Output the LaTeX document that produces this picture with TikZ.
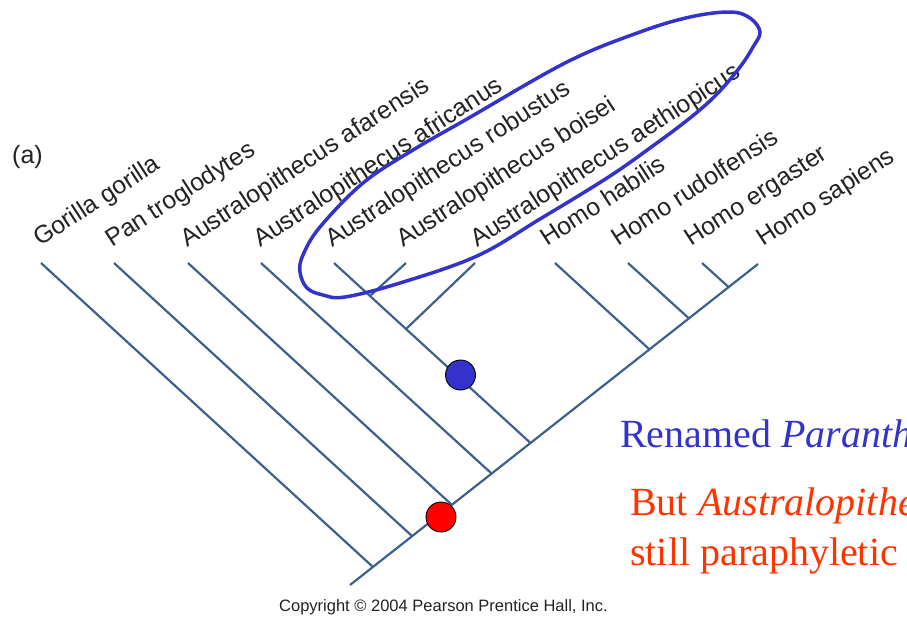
\documentclass[tikz,border=0pt]{standalone}
\usepackage{fontspec}
\setmainfont{Liberation Serif}
\newfontfamily\labfont{Liberation Sans}
\definecolor{branch}{RGB}{62,96,140}
\definecolor{ovalblue}{RGB}{51,51,204}
\definecolor{txtred}{RGB}{255,51,0}
\definecolor{labgray}{RGB}{34,34,34}
\begin{document}
\begin{tikzpicture}[x=1pt,y=-1pt,
  br/.style={draw=branch, line width=2.2pt},
  taxon/.style={font=\labfont\fontsize{24.8}{28}\selectfont, text=labgray, rotate=33, anchor=base west, inner sep=0pt},
  dotnode/.style={circle, draw=black, line width=0.9pt, minimum size=30pt, inner sep=0pt},
  bigtext/.style={anchor=base west, inner sep=0pt, font=\fontsize{40}{44}\selectfont}]
\useasboundingbox (0,0) rectangle (907,616);
\clip (0,0) rectangle (907,616);
% tips and junctions
\coordinate (root) at (350,585);
\coordinate (tG) at (41,263);   \coordinate (jG) at (373,567);
\coordinate (tP) at (114,263);  \coordinate (jP) at (412,536);
\coordinate (tAf) at (188,263); \coordinate (jAf) at (452,505);
\coordinate (tAa) at (261,263); \coordinate (jAa) at (491,473);
\coordinate (tR) at (334,263);  \coordinate (jR) at (530.5,443);
\coordinate (tB) at (406,263);  \coordinate (jB) at (370,296);
\coordinate (tAe) at (475,263); \coordinate (jAe) at (406,329);
\coordinate (tHh) at (555,263); \coordinate (jHh) at (649,349);
\coordinate (tHr) at (628,263); \coordinate (jHr) at (688.5,318);
\coordinate (tHe) at (702,263); \coordinate (jHe) at (728.5,287);
\coordinate (tHs) at (758,264);
% branches
\draw[br] (root) -- (tHs);
\draw[br] (tG) -- (jG);
\draw[br] (tP) -- (jP);
\draw[br] (tAf) -- (jAf);
\draw[br] (tAa) -- (jAa);
\draw[br] (tR) -- (jR);
\draw[br] (tB) -- (jB);
\draw[br] (tAe) -- (jAe);
\draw[br] (tHh) -- (jHh);
\draw[br] (tHr) -- (jHr);
\draw[br] (tHe) -- (jHe);
% labels
\node[taxon] (lG) at (40,247) {Gorilla gorilla};
\node[taxon] (lP) at (112,248) {Pan troglodytes};
\node[taxon] (lAf) at (187,248) {Australopithecus afarensis};
\node[taxon] (lAa) at (260,248) {Australopithecus africanus};
\node[taxon] (lR) at (332,248) {Australopithecus robustus};
\node[taxon] (lB) at (403,248) {Australopithecus boisei};
\node[taxon] (lAe) at (477,248) {Australopithecus aethiopicus};
\node[taxon] (lHh) at (547,247) {Homo habilis};
\node[taxon] (lHr) at (618,247) {Homo rudolfensis};
\node[taxon] (lHe) at (691,247) {Homo ergaster};
\node[taxon] (lHs) at (763,247) {Homo sapiens};
\node[anchor=base west, inner sep=0pt, font=\labfont\fontsize{25}{28}\selectfont, text=labgray] (panel) at (12,163) {(a)};
% oval
\draw[draw=ovalblue, line width=3.5pt] plot[smooth cycle, tension=0.6] coordinates {
 (300,272) (307,288) (323,295) (345,297) (400,283) (477,256) (540,219) (607,178)
 (650,148) (690,118) (717,94) (740,67) (753,47) (760,32) (750,18) (730,12)
 (690,17) (640,32) (567,62) (467,119) (413,150) (363,183) (320,227) (303,255)};
% dots
\node[dotnode, fill=ovalblue] (bdot) at (460.5,375) {};
\node[dotnode, fill=red] (rdot) at (441,517) {};
% text
\node[bigtext, text=ovalblue] (renamed) at (620,447) {Renamed \textit{Paranth}};
\node[bigtext, text=txtred] (but) at (630,515) {But \textit{Australopithe}};
\node[bigtext, text=txtred] (still) at (630,565) {still paraphyletic};
\node[anchor=base west, inner sep=0pt, font=\labfont\fontsize{16.5}{20}\selectfont, text=labgray] (copy) at (279,611) {Copyright © 2004 Pearson Prentice Hall, Inc.};
\end{tikzpicture}
\end{document}
